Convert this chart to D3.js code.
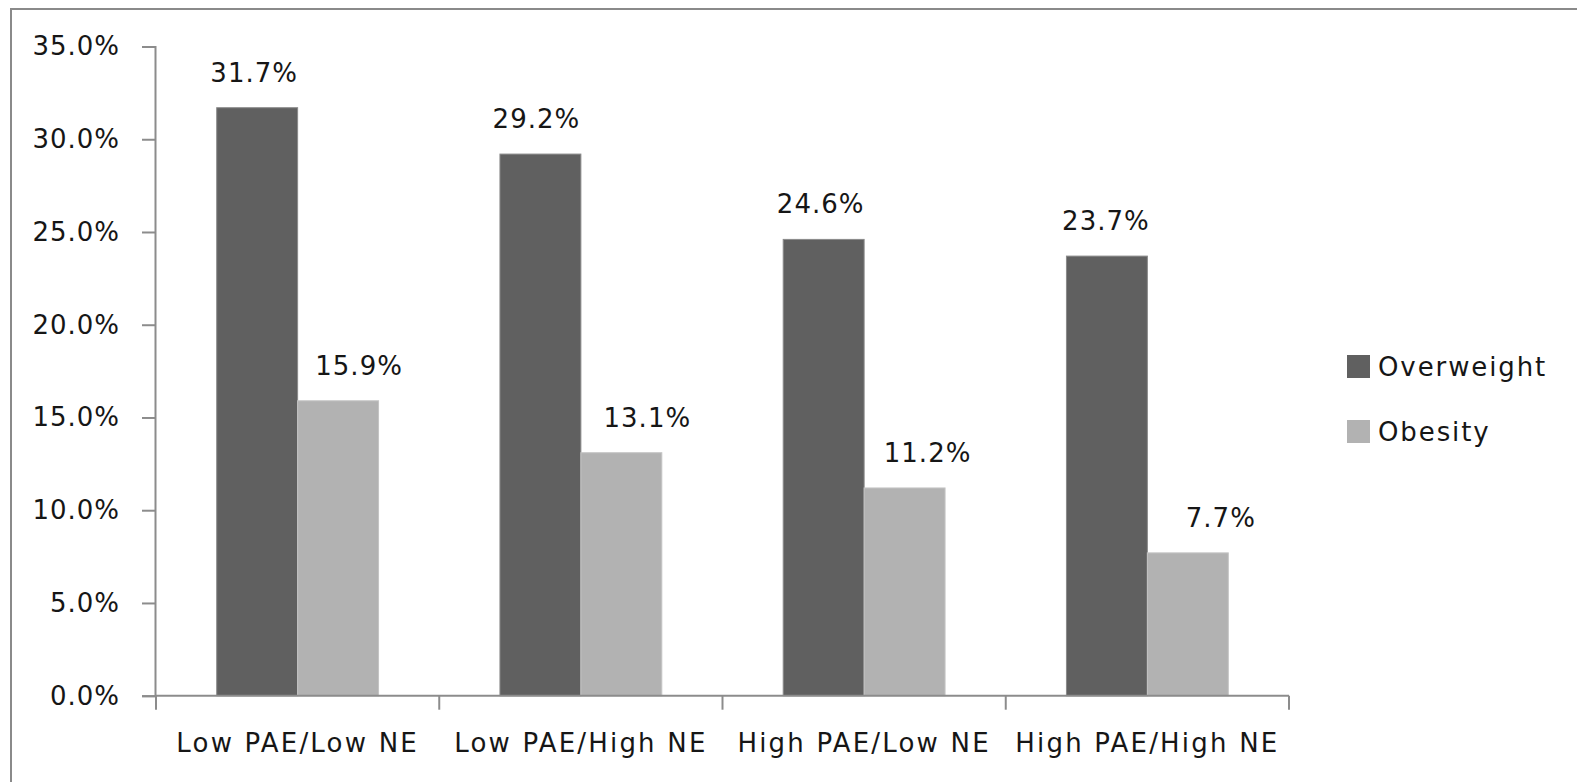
<!DOCTYPE html>
<html>
<head>
<meta charset="utf-8">
<script src="https://cdn.jsdelivr.net/npm/d3@7"></script>
<style>
  html, body { margin: 0; padding: 0; background: #fff; }
  svg { display: block; }
  text { font-family: "DejaVu Sans", sans-serif; fill: #161616; }
</style>
</head>
<body>
<svg id="chart" width="1577" height="782"></svg>
<script>
// Prevalence by PAE / NE group
const categories = ["Low PAE/Low NE", "Low PAE/High NE", "High PAE/Low NE", "High PAE/High NE"];
const seriesNames = ["Overweight", "Obesity"];
const overweight = [31.7, 29.2, 24.6, 23.7];
const obesity = [15.9, 13.1, 11.2, 7.7];
const yTicks = [0, 5, 10, 15, 20, 25, 30, 35];
const colors = ["#606060", "#b2b2b2"];

// horizontal nudges of the value labels (px), per series
const labelNudge = [[-3, -4, -3, -1], [21, 26, 23, 33]];

const series = [overweight, obesity];
const svg = d3.select("#chart");

// outer chart frame
svg.append("rect")
  .attr("x", 11).attr("y", 9)
  .attr("width", 1700).attr("height", 900)
  .attr("fill", "none").attr("stroke", "#8a8a8a").attr("stroke-width", 2);

const plot = { left: 156, right: 1289, top: 46.5, bottom: 695.7 };

const x0 = d3.scaleBand()
  .domain(categories)
  .range([plot.left, plot.right])
  .paddingInner(0.4286)
  .paddingOuter(0.2143);

const x1 = d3.scaleBand()
  .domain(seriesNames)
  .range([0, x0.bandwidth()]);

const y = d3.scaleLinear()
  .domain([0, 35])
  .range([plot.bottom, plot.top]);

const axisColor = "#8c8c8c";
const fontSize = 26;

// y axis
const yAxis = svg.append("g")
  .attr("transform", `translate(${plot.left - 1},0)`)
  .call(d3.axisLeft(y).tickValues(yTicks).tickSize(13).tickPadding(22)
    .tickFormat(d => d3.format(".1f")(d) + "%"));
yAxis.select(".domain").attr("stroke", axisColor).attr("stroke-width", 2);
yAxis.selectAll(".tick line").attr("stroke", axisColor).attr("stroke-width", 2);
yAxis.selectAll(".tick text")
  .attr("font-family", "DejaVu Sans")
  .attr("font-size", fontSize)
  .attr("letter-spacing", 1)
  .attr("fill", "#161616");

// bars and value labels
const groups = svg.append("g").selectAll("g")
  .data(categories)
  .join("g")
  .attr("transform", c => `translate(${x0(c)},0)`);

groups.each(function(c, i) {
  const g = d3.select(this);
  seriesNames.forEach((s, j) => {
    const v = series[j][i];
    g.append("rect")
      .attr("x", x1(s))
      .attr("y", y(v))
      .attr("width", x1.bandwidth())
      .attr("height", y(0) - y(v))
      .attr("fill", colors[j])
      .attr("stroke", j === 0 ? "#8a8a8a" : "#c4c4c4")
      .attr("stroke-width", 1);
    g.append("text")
      .attr("x", x1(s) + x1.bandwidth() / 2 + labelNudge[j][i])
      .attr("y", y(v) - 26)
      .attr("text-anchor", "middle")
      .attr("font-size", fontSize)
      .attr("letter-spacing", 1)
      .text(d3.format(".1f")(v) + "%");
  });
});

// x axis with ticks between categories
const xAxisG = svg.append("g");
xAxisG.append("line")
  .attr("x1", plot.left - 1).attr("x2", plot.right)
  .attr("y1", y(0)).attr("y2", y(0))
  .attr("stroke", axisColor).attr("stroke-width", 2);
const boundaries = categories.map(c => x0(c) - x0.step() * x0.paddingInner() / 2)
  .concat([plot.right]);
boundaries[0] = plot.left;
xAxisG.selectAll(".xt")
  .data(boundaries)
  .join("line")
  .attr("x1", d => d).attr("x2", d => d)
  .attr("y1", y(0)).attr("y2", y(0) + 14)
  .attr("stroke", axisColor).attr("stroke-width", 2);
xAxisG.selectAll(".xl")
  .data(categories)
  .join("text")
  .attr("x", c => x0(c) + x0.bandwidth() / 2)
  .attr("y", 752)
  .attr("text-anchor", "middle")
  .attr("font-size", fontSize)
  .attr("letter-spacing", 2.2)
  .text(c => c);

// legend
const legend = svg.append("g").attr("transform", "translate(1347,355)");
seriesNames.forEach((s, j) => {
  legend.append("rect")
    .attr("x", 0).attr("y", j * 65)
    .attr("width", 23).attr("height", 23)
    .attr("fill", colors[j]);
  legend.append("text")
    .attr("x", 31).attr("y", j * 65 + 21)
    .attr("font-size", fontSize)
    .attr("letter-spacing", 1.9)
    .text(s);
});
</script>
</body>
</html>
